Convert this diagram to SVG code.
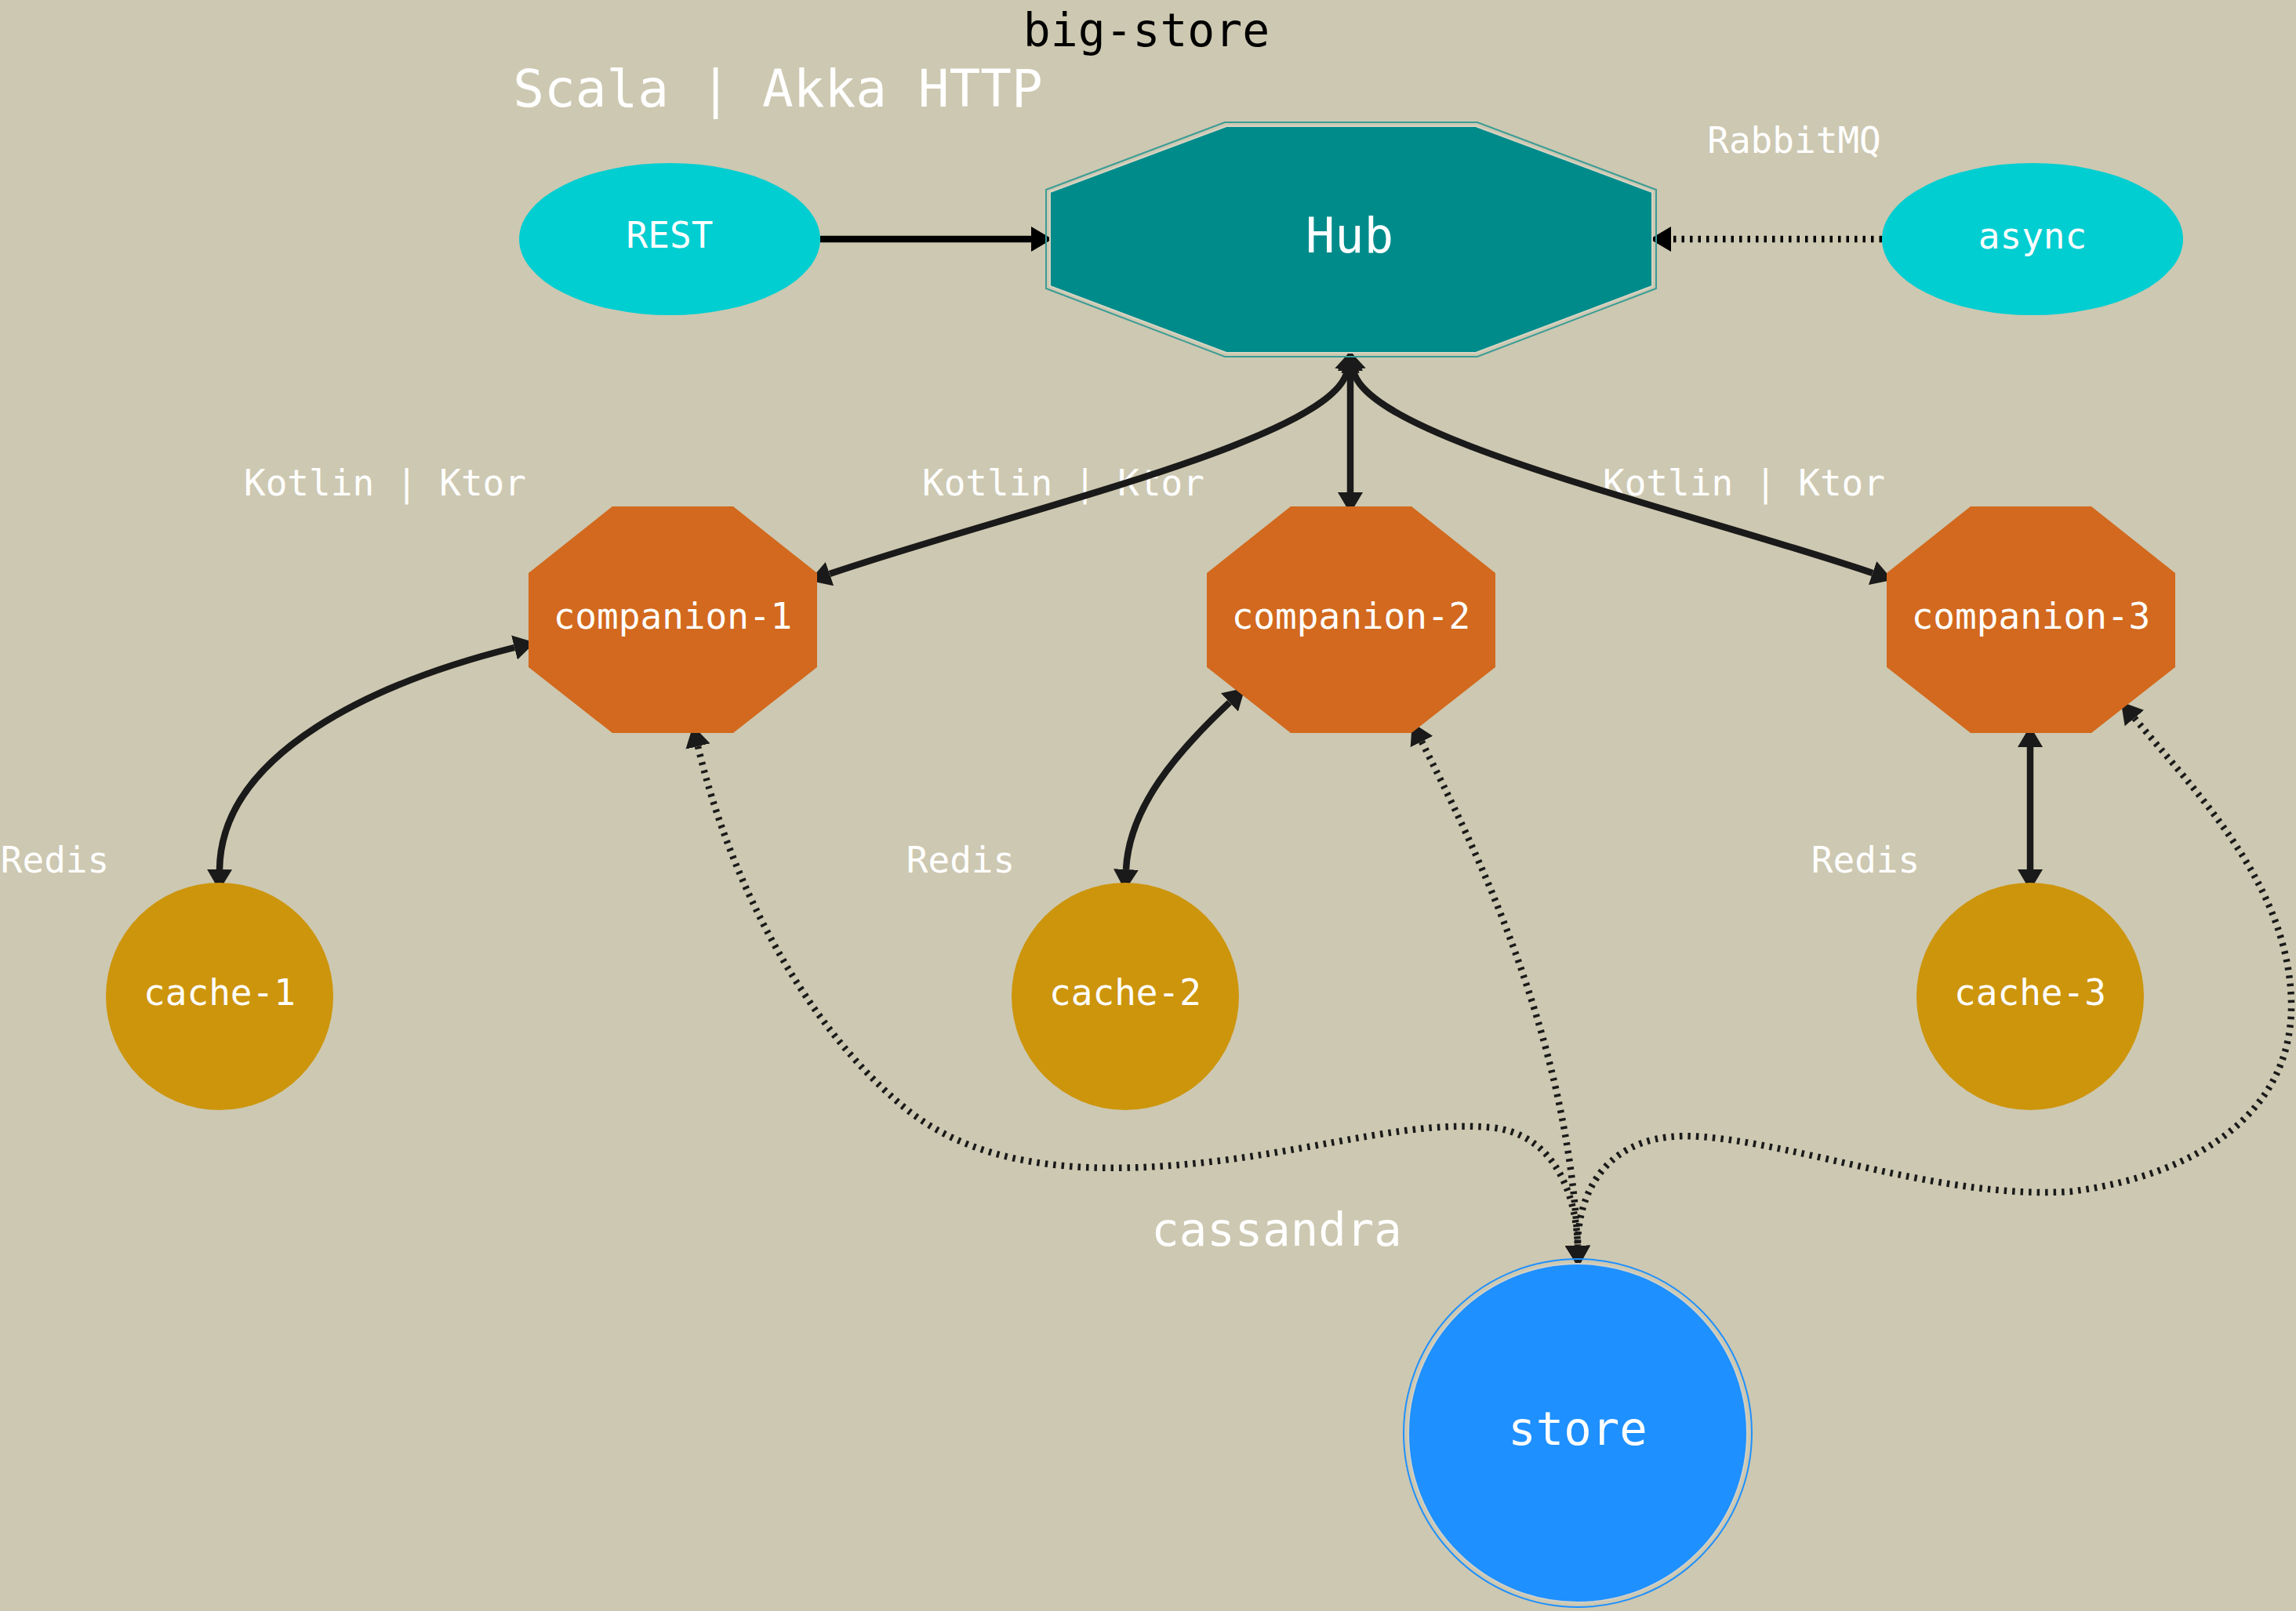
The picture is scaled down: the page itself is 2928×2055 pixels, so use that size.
<svg xmlns="http://www.w3.org/2000/svg" width="2928" height="2055" viewBox="0 0 2928 2055">
<style>
text{font-family:"DejaVu Sans Mono","Liberation Mono",monospace;text-anchor:middle}
.lbl{fill:#ffffff;font-size:46px}
.big{fill:#ffffff;font-size:59px}
.edge{fill:none;stroke:#1a1a1a;stroke-width:8.5}
.edgeb{fill:none;stroke:#000000;stroke-width:8.5}
.dot{stroke-dasharray:3.5 7}
.comp{fill:#D2691E}
.cache{fill:#CD950C}
.ell{fill:#00CED1}
</style>
<defs>
<marker id="ah" markerUnits="userSpaceOnUse" viewBox="0 0 27 32" markerWidth="27" markerHeight="32" refX="0" refY="16" orient="auto-start-reverse"><path d="M0,0 L27,16 L0,32 z" fill="#1a1a1a"/></marker>
<marker id="ahb" markerUnits="userSpaceOnUse" viewBox="0 0 27 32" markerWidth="27" markerHeight="32" refX="0" refY="16" orient="auto-start-reverse"><path d="M0,0 L27,16 L0,32 z" fill="#000000"/></marker>
</defs>
<rect x="0" y="0" width="2928" height="2055" fill="#CDC8B1"/>
<g id="titles">
<text x="1462" y="59" style="font-size:58px;fill:#000000">big-store</text>
<text x="992" y="136" style="font-size:66px;fill:#ffffff">Scala | Akka HTTP</text>
<text x="2288" y="195" class="lbl">RabbitMQ</text>
<text x="491" y="632" class="lbl">Kotlin | Ktor</text>
<text x="1356" y="632" class="lbl">Kotlin | Ktor</text>
<text x="2224" y="632" class="lbl">Kotlin | Ktor</text>
<text x="70" y="1113" class="lbl">Redis</text>
<text x="1225" y="1113" class="lbl">Redis</text>
<text x="2379" y="1113" class="lbl">Redis</text>
<text x="1628" y="1589" class="big">cassandra</text>
</g>
<g id="edges">
<path class="edgeb" d="M1046,305 L1315,305" marker-end="url(#ahb)"/>
<path class="edgeb dot" d="M2400,305 L2131,305" marker-end="url(#ahb)"/>
<path class="edge" d="M1722,473 L1722,628" marker-start="url(#ah)" marker-end="url(#ah)"/>
<path class="edge" d="M1718,473 C1700,560 1300,650 1058,732" marker-start="url(#ah)" marker-end="url(#ah)"/>
<path class="edge" d="M1726,473 C1745,560 2150,650 2388,731" marker-start="url(#ah)" marker-end="url(#ah)"/>
<path class="edge" d="M656,826 C480,870 282,960 280,1109" marker-start="url(#ah)" marker-end="url(#ah)"/>
<path class="edge" d="M1568,896 C1500,960 1440,1030 1436,1109" marker-start="url(#ah)" marker-end="url(#ah)"/>
<path class="edge" d="M2589,953 L2589,1109" marker-start="url(#ah)" marker-end="url(#ah)"/>
<path class="edge dot" d="M890,952 C930,1120 1020,1300 1150,1410 C1250,1495 1400,1500 1560,1480 C1700,1462 1800,1430 1900,1438 C1980,1445 2010,1520 2012,1589" marker-start="url(#ah)" marker-end="url(#ah)"/>
<path class="edge dot" d="M1813,946 C1880,1080 2000,1320 2012,1589" marker-start="url(#ah)" marker-end="url(#ah)"/>
<path class="edge dot" d="M2722,916 C2800,1010 2920,1130 2922,1280 C2924,1420 2800,1500 2640,1520 C2480,1530 2300,1460 2170,1450 C2050,1440 2012,1520 2012,1589" marker-start="url(#ah)" marker-end="url(#ah)"/>
</g>
<g id="REST">
<ellipse class="ell" cx="854" cy="305" rx="192" ry="97"/>
<text x="854" y="316" class="lbl">REST</text>
</g>
<g id="async">
<ellipse class="ell" cx="2592" cy="305" rx="192" ry="97"/>
<text x="2592" y="317" class="lbl">async</text>
</g>
<g id="Hub">
<polygon points="1562,156 1884,156 2112,242 2112,368 1884,455 1562,455 1334,368 1334,242" fill="none" stroke="#3a9c96" stroke-width="2"/>
<polygon points="1564,161 1882,161 2107,245 2107,365 1882,450 1564,450 1339,365 1339,245" fill="#008B8B" stroke="#d6d4c2" stroke-width="2"/>
<text x="1721" y="322" style="font-size:62px;fill:#ffffff">Hub</text>
</g>
<g id="companion-1">
<polygon class="comp" points="781,646 935,646 1042,731 1042,851 935,935 781,935 674,851 674,731"/>
<text x="858" y="802" class="lbl">companion-1</text>
</g>
<g id="companion-2">
<polygon class="comp" points="1646,646 1800,646 1907,731 1907,851 1800,935 1646,935 1539,851 1539,731"/>
<text x="1723" y="802" class="lbl">companion-2</text>
</g>
<g id="companion-3">
<polygon class="comp" points="2513,646 2667,646 2774,731 2774,851 2667,935 2513,935 2406,851 2406,731"/>
<text x="2590" y="802" class="lbl">companion-3</text>
</g>
<g id="cache-1">
<circle class="cache" cx="280" cy="1271" r="145"/>
<text x="280" y="1282" class="lbl">cache-1</text>
</g>
<g id="cache-2">
<circle class="cache" cx="1435" cy="1271" r="145"/>
<text x="1435" y="1282" class="lbl">cache-2</text>
</g>
<g id="cache-3">
<circle class="cache" cx="2589" cy="1271" r="145"/>
<text x="2589" y="1282" class="lbl">cache-3</text>
</g>
<g id="store">
<circle cx="2012" cy="1828" r="222" fill="none" stroke="#1E90FF" stroke-width="2"/>
<circle cx="2012" cy="1828" r="216" fill="#1E90FF" stroke="#cfd0c8" stroke-width="2"/>
<text x="2012" y="1843" class="big">store</text>
</g>
</svg>
